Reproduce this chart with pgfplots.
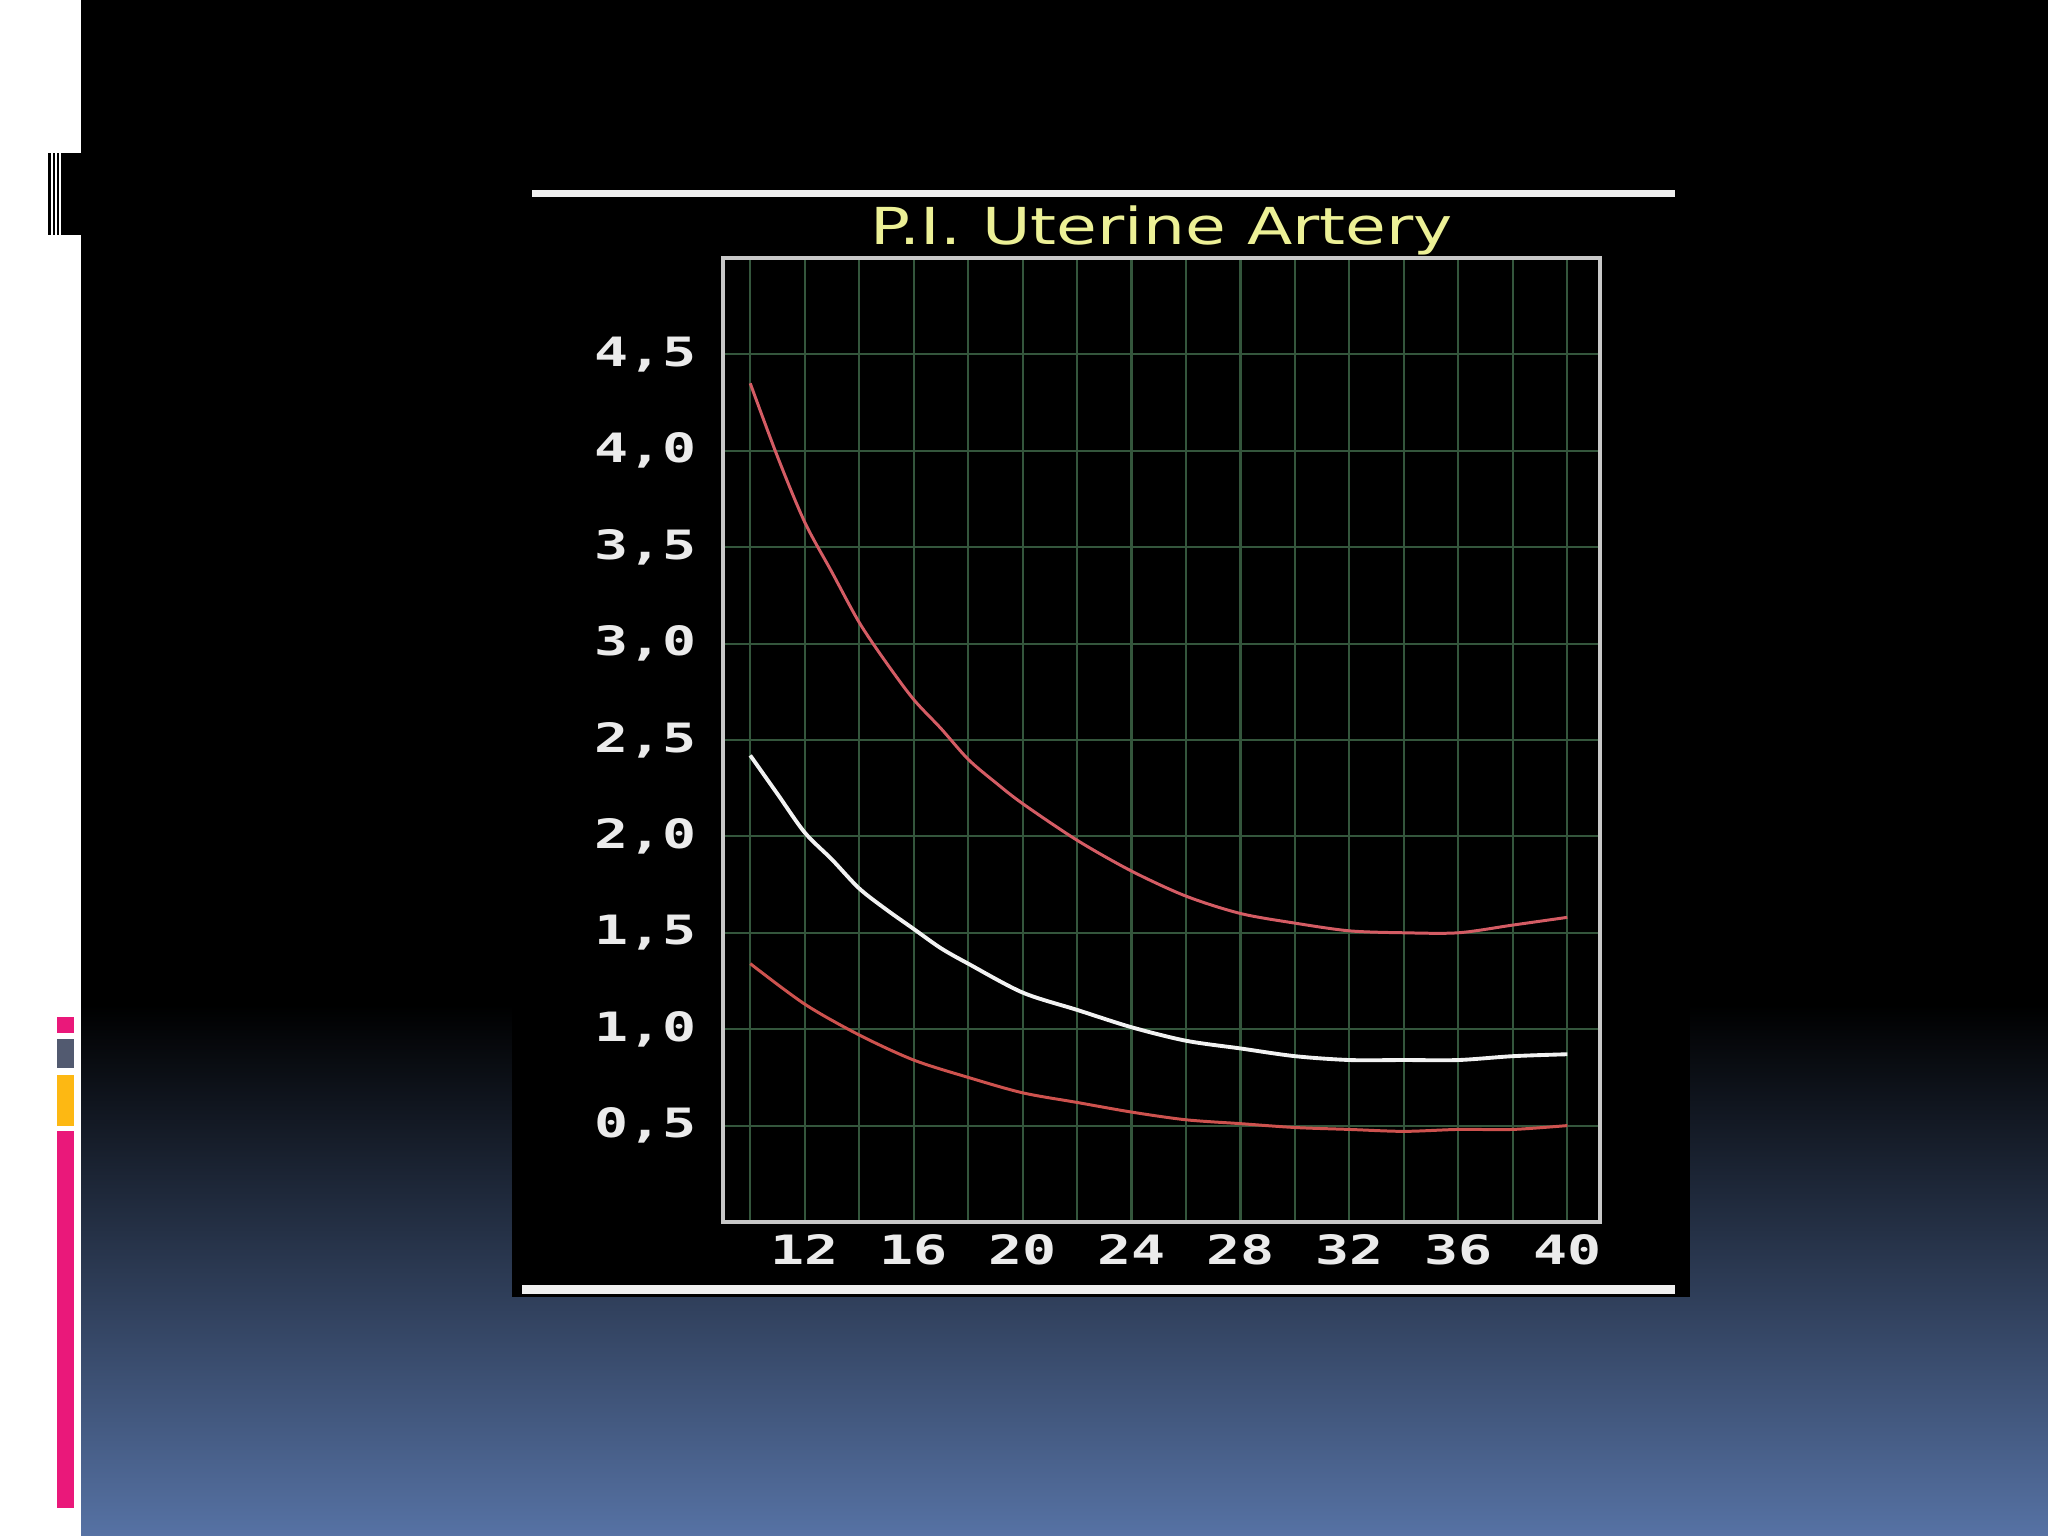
\documentclass[border=0pt]{standalone}
\usepackage{fontspec}
\usepackage{pgfplots}
\pgfplotsset{compat=1.18}
\newfontfamily\titlefont{DejaVu Sans}[FakeStretch=1.3]
\newfontfamily\tickfont{DejaVu Sans Mono}[FakeStretch=1.4]
\definecolor{slidepink}{RGB}{234,24,122}
\definecolor{slidegray}{RGB}{82,90,112}
\definecolor{slideorange}{RGB}{253,184,19}
\definecolor{slideblue}{RGB}{86,114,164}
\definecolor{gridgreen}{RGB}{52,86,60}
\definecolor{framegray}{RGB}{200,200,200}
\definecolor{titleyellow}{RGB}{236,240,150}
\definecolor{curvered}{RGB}{212,92,100}
\definecolor{lowred}{RGB}{205,82,78}

\begin{document}
\begin{tikzpicture}[x=1cm,y=1cm]
% slide background (1 px = 0.01 cm, y measured up from the bottom)
\path[use as bounding box] (0,0) rectangle (20.48,15.36);
\fill[white] (0,0) rectangle (0.81,15.36);
\fill[black] (0.81,5.30) rectangle (20.48,15.36);
\shade[top color=black, bottom color=slideblue] (0.81,0) rectangle (20.48,5.31);
% barcode mark and coloured bars on the left
\fill[black] (0.48,13.01) rectangle (0.51,13.83);
\fill[black] (0.53,13.01) rectangle (0.55,13.83);
\fill[black] (0.57,13.01) rectangle (0.59,13.83);
\fill[black] (0.61,13.01) rectangle (0.81,13.83);
\fill[slidepink] (0.57,5.03) rectangle (0.74,5.19);
\fill[slidegray] (0.57,4.68) rectangle (0.74,4.97);
\fill[slideorange] (0.57,4.10) rectangle (0.74,4.61);
\fill[slidepink] (0.57,0.28) rectangle (0.74,4.05);
% picture box
\fill[black] (5.12,2.39) rectangle (16.90,14.00);
\fill[white!94!black] (5.32,13.39) rectangle (16.75,13.46);
\fill[white!94!black] (5.22,2.42) rectangle (16.75,2.51);

\begin{axis}[
  at={(7.23cm,3.14cm)}, anchor=south west,
  scale only axis, width=8.77cm, height=9.64cm,
  xmin=9, xmax=41.2, ymin=0, ymax=5,
  axis line style={draw=framegray, line width=1.1pt},
  xtick={10,12,...,40},
  xticklabels={,12,,16,,20,,24,,28,,32,,36,,40},
  ytick={0.5,1.0,1.5,2.0,2.5,3.0,3.5,4.0,4.5},
  yticklabels={{0,5},{1,0},{1,5},{2,0},{2,5},{3,0},{3,5},{4,0},{4,5}},
  major tick length=0pt,
  grid=major,
  major grid style={gridgreen, line width=0.6pt},
  tick label style={color=white!92!black,
    font=\tickfont\bfseries\fontsize{11.5}{13}\selectfont},
  yticklabel style={xshift=-0.14cm},
  title={P.I. Uterine Artery},
  title style={at={(0.5,1)}, anchor=base, yshift=-0.08cm,
    color=titleyellow, font=\titlefont\fontsize{14.5}{16}\selectfont},
]
  % upper curve
  \addplot[curvered, line width=0.85pt, smooth]
    coordinates{(10,4.35) (11,3.97) (12,3.63) (13,3.37) (14,3.11) (15,2.90)
                (16,2.71) (17,2.56) (18,2.40) (19,2.28) (20,2.17) (22,1.98)
                (24,1.82) (26,1.69) (28,1.60) (30,1.55) (32,1.51) (34,1.50)
                (36,1.50) (38,1.54) (40,1.58)};
  % middle curve
  \addplot[white!95!black, line width=1.1pt, smooth]
    coordinates{(10,2.42) (11,2.22) (12,2.02) (13,1.88) (14,1.73) (15,1.62)
                (16,1.52) (17,1.42) (18,1.34) (20,1.19) (22,1.10) (24,1.01)
                (26,0.94) (28,0.90) (30,0.86) (32,0.84) (34,0.84) (36,0.84)
                (38,0.86) (40,0.87)};
  % lower curve
  \addplot[lowred, line width=0.85pt, smooth]
    coordinates{(10,1.34) (12,1.13) (14,0.97) (16,0.84) (18,0.75) (20,0.67)
                (22,0.62) (24,0.57) (26,0.53) (28,0.51) (30,0.49) (32,0.48)
                (34,0.47) (36,0.48) (38,0.48) (40,0.50)};
\end{axis}
\end{tikzpicture}
\end{document}
